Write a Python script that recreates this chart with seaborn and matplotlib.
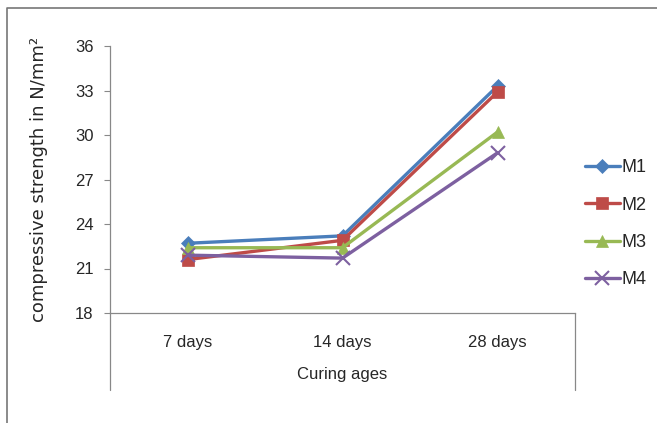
import matplotlib
matplotlib.use("Agg")
import matplotlib.pyplot as plt
import seaborn as sns
import pandas as pd
from matplotlib.lines import Line2D

categories = ["7 days", "14 days", "28 days"]
M1 = [22.7, 23.2, 33.3]
M2 = [21.6, 22.9, 32.9]
M3 = [22.4, 22.4, 30.2]
M4 = [21.9, 21.7, 28.8]
series_names = ["M1", "M2", "M3", "M4"]
yticks = [18, 21, 24, 27, 30, 33, 36]

rows = []
for name, vals in zip(series_names, [M1, M2, M3, M4]):
    for i, (c, v) in enumerate(zip(categories, vals)):
        rows.append({"age": c, "pos": i, "strength": v, "mix": name})
df = pd.DataFrame(rows)

sns.set_theme(style="white")
plt.rcParams['font.family'] = ['Liberation Sans Narrow', 'Liberation Sans', 'DejaVu Sans']

fig = plt.figure(figsize=(6.57, 4.23), dpi=100)
ax = fig.add_axes([110/657, 1-313/423, 465/657, 267/423])

palette = {"M1": "#4A7EBB", "M2": "#BE4B48", "M3": "#98B954", "M4": "#7D60A0"}
markers = {"M1": "D", "M2": "s", "M3": "^", "M4": "x"}
sizes = {"M1": 7, "M2": 9, "M3": 9, "M4": 10}
for name in series_names:
    sub = df[df["mix"] == name]
    sns.lineplot(data=sub, x="pos", y="strength", ax=ax, color=palette[name],
                 marker=markers[name], markersize=sizes[name], linewidth=2.4,
                 markeredgecolor=palette[name], markeredgewidth=1.5 if name == "M4" else 0.5,
                 label=name, legend=False)

ax.set_xlim(-0.5, 2.5)
ax.set_ylim(18, 36)
ax.set_yticks(yticks)
ax.set_yticklabels([str(t) for t in yticks], fontsize=12)
ax.set_xticks(range(len(categories)))
ax.set_xticklabels(categories, fontsize=12)
ax.tick_params(axis='x', length=0, pad=16)
ax.tick_params(axis='y', length=4, width=0.8, color='#888888', direction='out', pad=8, left=True)
for s in ["top", "right"]:
    ax.spines[s].set_visible(False)
for s in ["left", "bottom"]:
    ax.spines[s].set_color("#888888")
    ax.spines[s].set_linewidth(0.9)
ax.set_xlabel("Curing ages", fontsize=12, labelpad=12)
ax.set_ylabel("compressive strength in N/mm²", fontsize=13, family=['DejaVu Sans'], labelpad=19)
ax.set_facecolor("none")

# extended category axis lines
fig.add_artist(Line2D([110/657, 110/657], [1-313/423, 1-390/423], color="#888888", lw=0.9))
fig.add_artist(Line2D([575/657, 575/657], [1-313/423, 1-390/423], color="#888888", lw=0.9))
# outer border
fig.add_artist(Line2D([7/657, 7/657, 1.0], [0.0, 1-8/423, 1-8/423], color="#777777", lw=1.2))

handles = [Line2D([0], [0], color=palette[n], marker=markers[n], markersize=sizes[n],
                  markeredgewidth=1.5 if n == "M4" else 0.5, lw=2.4) for n in series_names]
fig.legend(handles, series_names, loc="upper left", bbox_to_anchor=(578/657, 1-152/423),
           frameon=False, fontsize=13, handlelength=1.9, handletextpad=0.1,
           labelspacing=1.13, borderaxespad=0)

fig.savefig("out.png", dpi=100)
